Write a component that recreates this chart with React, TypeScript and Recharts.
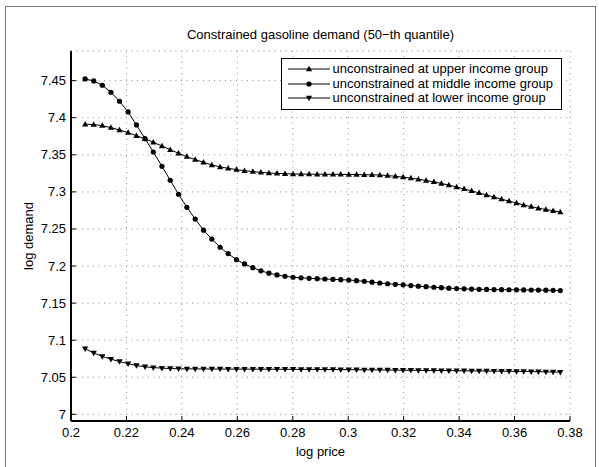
import React from 'react';
import { LineChart, Line, XAxis, YAxis, CartesianGrid, Legend } from 'recharts';

const FONT = '"Liberation Sans", Arial, Helvetica, sans-serif';

// log price grid (61 points)
const logPrice = [
  0.2051, 0.2082, 0.2113, 0.2144, 0.2175, 0.2206, 0.2236, 0.2267, 0.2297, 0.2328,
  0.2358, 0.2388, 0.2418, 0.2448, 0.2478, 0.2508, 0.2538, 0.2567, 0.2597, 0.2626,
  0.2656, 0.2685, 0.2714, 0.2743, 0.2772, 0.2801, 0.283, 0.2859, 0.2888, 0.2916,
  0.2945, 0.2973, 0.3002, 0.303, 0.3058, 0.3086, 0.3114, 0.3142, 0.317, 0.3198,
  0.3226, 0.3253, 0.3281, 0.3309, 0.3336, 0.3363, 0.3391, 0.3418, 0.3445, 0.3472,
  0.3499, 0.3526, 0.3553, 0.358, 0.3607, 0.3633, 0.366, 0.3686, 0.3713, 0.3739,
  0.3765,
];

const upperIncome = [
  7.3912, 7.3908, 7.3893, 7.3866, 7.3835, 7.3799, 7.3758, 7.3716, 7.3668, 7.3619,
  7.3569, 7.3521, 7.3475, 7.3435, 7.3399, 7.3363, 7.3336, 7.3318, 7.33, 7.3286,
  7.3273, 7.3263, 7.3255, 7.3249, 7.3245, 7.3242, 7.324, 7.3239, 7.3238, 7.3238,
  7.3237, 7.3236, 7.3235, 7.3233, 7.3231, 7.323, 7.3228, 7.322, 7.321, 7.3199,
  7.3186, 7.3171, 7.3154, 7.3135, 7.3114, 7.3091, 7.3066, 7.304, 7.3013, 7.2986,
  7.2958, 7.293, 7.2902, 7.2875, 7.2849, 7.2824, 7.2801, 7.278, 7.2762, 7.2745,
  7.2729,
];

const middleIncome = [
  7.4523, 7.4496, 7.4438, 7.4344, 7.4222, 7.4078, 7.3903, 7.3718, 7.3538, 7.3345,
  7.3157, 7.2968, 7.2792, 7.2633, 7.2484, 7.2363, 7.2253, 7.2166, 7.2086, 7.2028,
  7.1978, 7.1936, 7.1904, 7.188, 7.1862, 7.1849, 7.1841, 7.1834, 7.1829, 7.1825,
  7.1821, 7.1816, 7.1811, 7.1803, 7.1794, 7.1782, 7.1771, 7.1761, 7.1753, 7.1746,
  7.1737, 7.1728, 7.1721, 7.1714, 7.1708, 7.1701, 7.1696, 7.1692, 7.1689, 7.1686,
  7.1684, 7.1682, 7.1681, 7.168, 7.1679, 7.1678, 7.1677, 7.1676, 7.1674, 7.1672,
  7.1669,
];

const lowerIncome = [
  7.0885, 7.0827, 7.0781, 7.0744, 7.0712, 7.0683, 7.0659, 7.0641, 7.063, 7.0623,
  7.0618, 7.0615, 7.0613, 7.0612, 7.0612, 7.0611, 7.0611, 7.061, 7.061, 7.061,
  7.0609, 7.0609, 7.0608, 7.0608, 7.0607, 7.0607, 7.0606, 7.0606, 7.0605, 7.0604,
  7.0604, 7.0603, 7.0602, 7.0601, 7.06, 7.0599, 7.0598, 7.0597, 7.0596, 7.0595,
  7.0594, 7.0593, 7.0592, 7.0591, 7.059, 7.0589, 7.0588, 7.0587, 7.0586, 7.0585,
  7.0584, 7.0583, 7.0582, 7.0581, 7.0579, 7.0578, 7.0576, 7.0575, 7.0573, 7.0571,
  7.0569,
];

const xTicks = [0.2, 0.22, 0.24, 0.26, 0.28, 0.3, 0.32, 0.34, 0.36, 0.38];
const yTicks = [7, 7.05, 7.1, 7.15, 7.2, 7.25, 7.3, 7.35, 7.4, 7.45];

const seriesNames = [
  'unconstrained at upper income group',
  'unconstrained at middle income group',
  'unconstrained at lower income group',
];
const seriesKeys = ['upper', 'middle', 'lower'];
const seriesShapes = ['up', 'circle', 'down'];

const data = logPrice.map((p, i) => ({
  p,
  upper: upperIncome[i],
  middle: middleIncome[i],
  lower: lowerIncome[i],
}));

const fmt = (v: number) => String(Number(v.toFixed(2)));

function marker(shape: string, cx: number, cy: number, key?: string) {
  if (shape === 'circle') return <circle key={key} cx={cx} cy={cy} r={2.6} fill="#000" />;
  if (shape === 'up')
    return <path key={key} d={`M${cx},${cy - 3.3} L${cx + 3.1},${cy + 2.2} L${cx - 3.1},${cy + 2.2} Z`} fill="#000" />;
  return <path key={key} d={`M${cx},${cy + 3.3} L${cx + 3.1},${cy - 2.2} L${cx - 3.1},${cy - 2.2} Z`} fill="#000" />;
}

const dotFor = (shape: string) => (props: any) =>
  marker(shape, props.cx, props.cy, `${shape}-${props.index}`);

const BottomTick = (props: any) => {
  const { x, y, payload } = props;
  return (
    <g>
      <line x1={x} x2={x} y1={y} y2={y - 5} stroke="#000" />
      <text x={x} y={y + 16} textAnchor="middle" fontSize={13} fontFamily={FONT} fill="#000">
        {fmt(payload.value)}
      </text>
    </g>
  );
};

const TopTick = (props: any) => {
  const { x, y } = props;
  return <line x1={x} x2={x} y1={y} y2={y + 5} stroke="#000" />;
};

const LeftTick = (props: any) => {
  const { x, y, payload } = props;
  return (
    <g>
      <line x1={x} x2={x + 5} y1={y} y2={y} stroke="#000" />
      <text x={x - 5} y={y + 4.5} textAnchor="end" fontSize={13} fontFamily={FONT} fill="#000">
        {fmt(payload.value)}
      </text>
    </g>
  );
};

const RightTick = (props: any) => {
  const { x, y } = props;
  return <line x1={x} x2={x - 5} y1={y} y2={y} stroke="#000" />;
};

// legend drawn in series order (upper, middle, lower)
const LegendBox = () => (
  <div
    style={{
      border: '1.5px solid #000',
      background: '#fff',
      padding: '3px 0 3.5px 5.5px',
      fontFamily: FONT,
      fontSize: 13,
      lineHeight: '14.5px',
      color: '#000',
    }}
  >
    {seriesKeys.map((k, i) => (
      <div key={k} style={{ display: 'flex', alignItems: 'center', height: 14.5 }}>
        <svg width={42} height={10} style={{ flex: 'none' }}>
          <line x1={0} x2={42} y1={5} y2={5} stroke="#000" />
          {marker(seriesShapes[i], 21, 5)}
        </svg>
        <span style={{ marginLeft: 3, whiteSpace: 'nowrap' }}>{seriesNames[i]}</span>
      </div>
    ))}
  </div>
);

export default function App() {
  return (
    <div style={{ position: 'absolute', left: 0, top: 0, width: 599, height: 467, background: '#fff', overflow: 'hidden' }}>
      <div
        style={{
          position: 'absolute',
          left: 5,
          top: 6,
          width: 589,
          height: 470,
          border: '1px solid #777',
        }}
      />
      <LineChart
        width={599}
        height={467}
        data={data}
        margin={{ top: 51, right: 29, bottom: 0, left: 0 }}
        style={{ position: 'absolute', left: 0, top: 0 }}
      >
        <CartesianGrid stroke="#8a8a8a" strokeDasharray="1 4.5" />
        <XAxis
          dataKey="p"
          type="number"
          domain={[0.2, 0.38]}
          ticks={xTicks}
          height={46}
          tickSize={0}
          tickMargin={0}
          tickLine={false}
          tick={<BottomTick />}
          axisLine={{ stroke: '#000', strokeWidth: 2 }}
          allowDataOverflow
        />
        <XAxis
          xAxisId="top"
          orientation="top"
          dataKey="p"
          type="number"
          domain={[0.2, 0.38]}
          ticks={xTicks}
          height={0}
          tickSize={0}
          tickMargin={0}
          tickLine={false}
          tick={<TopTick />}
          axisLine={{ stroke: '#000', strokeWidth: 2 }}
          allowDataOverflow
        />
        <YAxis
          type="number"
          domain={[6.991, 7.49]}
          ticks={yTicks}
          width={71}
          tickSize={0}
          tickMargin={0}
          tickLine={false}
          tick={<LeftTick />}
          axisLine={{ stroke: '#000', strokeWidth: 2 }}
          allowDataOverflow
        />
        <YAxis
          yAxisId="right"
          orientation="right"
          type="number"
          domain={[6.991, 7.49]}
          ticks={yTicks}
          width={0}
          tickSize={0}
          tickMargin={0}
          tickLine={false}
          tick={<RightTick />}
          axisLine={{ stroke: '#000', strokeWidth: 2 }}
          allowDataOverflow
        />
        <Line
          dataKey="upper"
          name={seriesNames[0]}
          stroke="#000"
          strokeWidth={1}
          dot={dotFor('up')}
          activeDot={false}
          isAnimationActive={false}
        />
        <Line
          dataKey="middle"
          name={seriesNames[1]}
          stroke="#000"
          strokeWidth={1}
          dot={dotFor('circle')}
          activeDot={false}
          isAnimationActive={false}
        />
        <Line
          dataKey="lower"
          name={seriesNames[2]}
          stroke="#000"
          strokeWidth={1}
          dot={dotFor('down')}
          activeDot={false}
          isAnimationActive={false}
        />
        <Legend
          layout="vertical"
          align="center"
          verticalAlign="middle"
          content={<LegendBox />}
          wrapperStyle={{ position: 'absolute', left: 281, top: 58, width: 281 }}
        />
      </LineChart>
      <div
        style={{
          position: 'absolute',
          left: 71,
          width: 499,
          top: 27,
          textAlign: 'center',
          fontFamily: FONT,
          fontSize: 13,
          color: '#000',
        }}
      >
        Constrained gasoline demand (50−th quantile)
      </div>
      <div
        style={{
          position: 'absolute',
          left: 71,
          width: 499,
          top: 444,
          textAlign: 'center',
          fontFamily: FONT,
          fontSize: 13,
          color: '#000',
        }}
      >
        log price
      </div>
      <div
        style={{
          position: 'absolute',
          left: 28,
          top: 236,
          transform: 'translate(-50%, -50%) rotate(-90deg)',
          fontFamily: FONT,
          fontSize: 13,
          color: '#000',
          whiteSpace: 'nowrap',
        }}
      >
        log demand
      </div>
    </div>
  );
}
